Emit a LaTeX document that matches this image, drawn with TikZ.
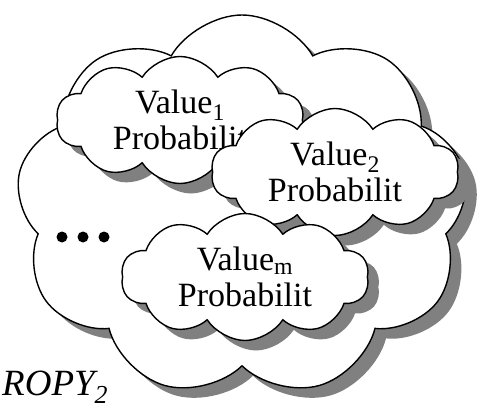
\documentclass[tikz,border=0pt]{standalone}
\usepackage{fontspec}
\setmainfont{Liberation Serif}
\usetikzlibrary{shapes.symbols, shadows}
\tikzset{
puff/.style={shape=cloud, draw, fill=white, line width=1.4pt, cloud ignores aspect, inner sep=0pt,
  drop shadow={shadow xshift=11pt, shadow yshift=-10pt, fill=black!50, opacity=1}}, % cloud with grey shadow
value/.style={puff, cloud puffs=10, cloud puff arc=115, minimum width=248pt, minimum height=127pt,
  align=center, font=\fontsize{34}{36}\selectfont}, % the small clouds
}
\begin{document}
\begin{tikzpicture}[x=1pt, y=-1pt]
    \useasboundingbox (0,0) rectangle (481,409);
    \node[puff, cloud puffs=9, cloud puff arc=120, minimum width=452pt, minimum height=382pt] (attr) at (242,206) {};
    \node[value] (v1) at (180,120) {Value\textsubscript{1}\\Probabilit};
    \node[value] (v2) at (335,172) {Value\textsubscript{2}\\Probabilit};
    \node[value] (vm) at (245,277) {Value\textsubscript{m}\\Probabilit};
    \foreach \i in {0,1,2}
      \fill (62+21*\i,237) circle (5.5);
    \node[anchor=base west, inner sep=1pt, font=\fontsize{37}{40}\selectfont\itshape] (ent) at (1,395) {ROPY\textsubscript{2}};
\end{tikzpicture}
\end{document}
